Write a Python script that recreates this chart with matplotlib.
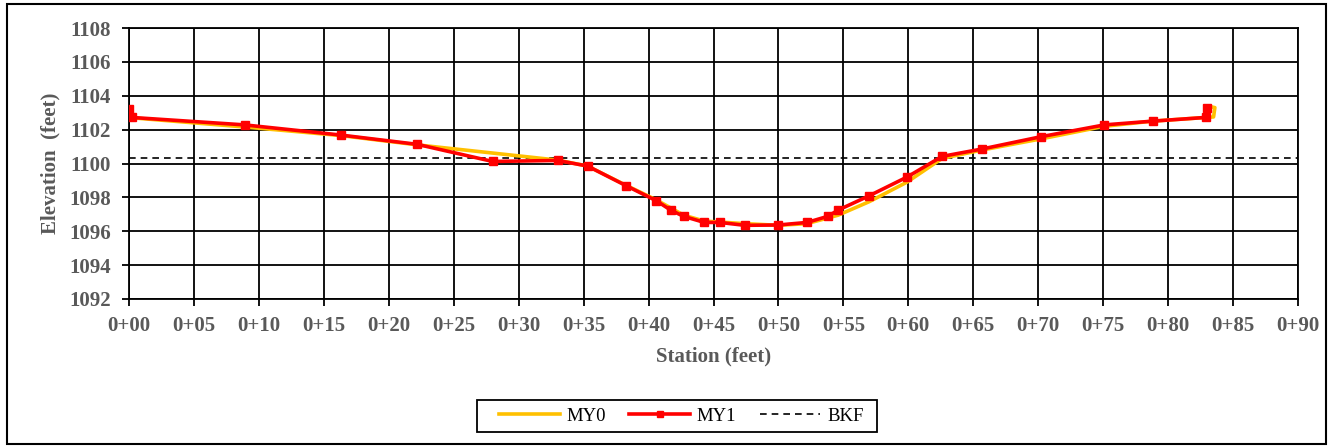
import matplotlib
matplotlib.use("Agg")
import matplotlib.pyplot as plt
from matplotlib.patches import Rectangle

# Data (station in feet, elevation in feet)
my0_station = [0, 0.2, 9, 16.3, 22.2, 33, 35.3, 38.3, 40.6, 42.7, 44.3, 47.4, 50, 52.2,
               54.6, 57, 59.9, 62.6, 65.7, 70.2, 75.1, 78.8, 83.5, 83.6, 83.3]
my0_elev = [1103.2, 1102.7, 1102.15, 1101.65, 1101.1, 1100.2, 1099.85, 1098.7, 1097.85,
            1096.95, 1096.6, 1096.45, 1096.35, 1096.45, 1096.95, 1097.75, 1098.9, 1100.3,
            1100.8, 1101.45, 1102.2, 1102.5, 1102.75, 1103.3, 1103.35]

my1_station = [0, 0.2, 8.9, 16.3, 22.2, 28.0, 33.0, 35.3, 38.3, 40.6, 41.7, 42.7, 44.3,
               45.5, 47.4, 50.0, 52.2, 53.8, 54.6, 57.0, 59.9, 62.6, 65.7, 70.2, 75.1,
               78.8, 82.9, 83.0]
my1_elev = [1103.2, 1102.72, 1102.28, 1101.68, 1101.13, 1100.12, 1100.18, 1099.85, 1098.68,
            1097.8, 1097.25, 1096.88, 1096.52, 1096.52, 1096.35, 1096.37, 1096.52, 1096.88,
            1097.25, 1098.1, 1099.2, 1100.42, 1100.86, 1101.58, 1102.28, 1102.5, 1102.72,
            1103.3]

bkf_elev = 1100.33

x_ticks = list(range(0, 95, 5))
x_labels = ["0+%02d" % v for v in x_ticks]
y_ticks = list(range(1092, 1110, 2))

W, H = 1329, 446
fig = plt.figure(figsize=(W / 100, H / 100), dpi=100)
ax = fig.add_axes([129 / W, 1 - 299 / H, (1298 - 129) / W, (299 - 28) / H])

serif = ["Liberation Serif", "DejaVu Serif"]
gray = "#595959"

ax.plot(my0_station, my0_elev, color="#FFC000", lw=2.6, label="MY0", zorder=3,
        solid_joinstyle="round")
ax.plot(my1_station, my1_elev, color="#FF0000", lw=2.6, marker="s", ms=5.5,
        label="MY1", zorder=4)
ax.plot([0, 90], [bkf_elev, bkf_elev], color="black", lw=1.2, ls=(0, (4, 3)),
        label="BKF", zorder=2)

ax.set_xlim(0, 90)
ax.set_ylim(1092, 1108)
ax.set_xticks(x_ticks)
ax.set_xticklabels(x_labels)
ax.set_yticks(y_ticks)
ax.grid(True, color="black", lw=1.3)
ax.set_axisbelow(True)
for s in ax.spines.values():
    s.set_color("black")
    s.set_linewidth(1.3)
ax.tick_params(direction="out", length=5, width=1.3, color="black")
ax.tick_params(axis="x", pad=7)
ax.tick_params(axis="y", pad=8)
for lab in ax.get_xticklabels() + ax.get_yticklabels():
    lab.set_fontfamily(serif)
    lab.set_fontweight("bold")
    lab.set_fontsize(15)
    lab.set_color(gray)

ax.set_xlabel("Station (feet)", fontfamily=serif, fontweight="bold", fontsize=15,
              color=gray, labelpad=8)
ax.set_ylabel("Elevation  (feet)", fontfamily=serif, fontweight="bold", fontsize=15,
              color=gray, labelpad=6)

# legend without frame, with manual box
leg = fig.legend(loc="center", bbox_to_anchor=(681 / W, 1 - 416 / H), ncol=3,
                 frameon=False, prop={"family": serif, "size": 13.5},
                 handlelength=3.25, handletextpad=0.35, columnspacing=1.25,
                 markerscale=0.8, borderpad=0.0)
fig.patches.append(Rectangle((477 / W, 1 - 432 / H), (877 - 477) / W, (432 - 400) / H,
                             transform=fig.transFigure, fill=False, edgecolor="black",
                             lw=1.3))

# outer chart frame
fig.patches.append(Rectangle((7 / W, 1 - 444 / H), (1326 - 7) / W, (444 - 4) / H,
                             transform=fig.transFigure, fill=False, edgecolor="black",
                             lw=1.5))

fig.savefig("out.png", dpi=100)
